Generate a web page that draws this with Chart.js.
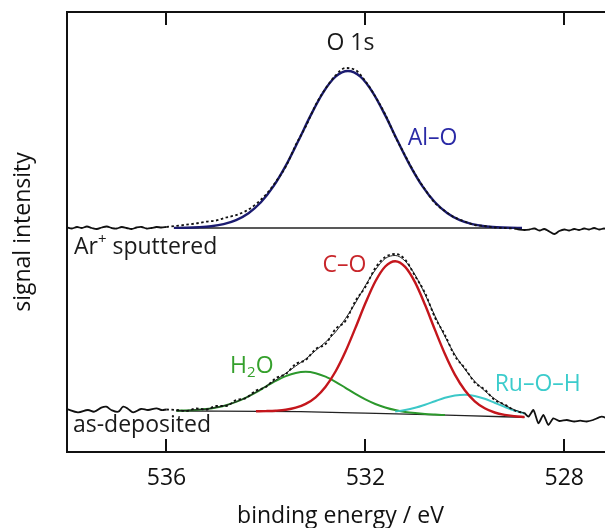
<!DOCTYPE html>
<html>
<head>
<meta charset="utf-8">
<script src="https://cdn.jsdelivr.net/npm/chart.js@4"></script>
<style>
  html, body { margin: 0; padding: 0; background: #fff; overflow: hidden; }
  #wrap { width: 605px; height: 528px; overflow: hidden; }
</style>
</head>
<body>
<div id="wrap"><canvas id="xps" width="620" height="528"></canvas></div>
<script>
// binding energy axis (eV), drawn reversed
const xMin = 527;
const xMax = 538;
const xTicks = [536, 532, 528];

// Ar+ sputtered spectrum (offset intensity, arbitrary units)
const topNoiseLeftE = [538.0, 537.9, 537.8, 537.7, 537.6, 537.5, 537.4, 537.3, 537.2, 537.1, 537.0, 536.9, 536.8, 536.7, 536.6, 536.5, 536.4, 536.3, 536.2, 536.1, 536.0];
const topNoiseLeftI = [224.5, 223.5, 225, 224, 225.5, 224, 223, 224.5, 225.5, 224, 223.5, 225, 224, 223, 224.5, 225, 223.5, 224, 225, 224.5, 225];
const topDataE = [536.0, 535.8, 535.6, 535.4, 535.2, 535.0, 534.8, 534.6, 534.4, 534.2, 534.0, 533.8, 533.6, 533.4, 533.2, 533.0, 532.8, 532.6, 532.4, 532.2, 532.0, 531.8, 531.6, 531.4, 531.2, 531.0, 530.8, 530.6, 530.4, 530.2, 530.0, 529.8, 529.6, 529.4, 529.2, 529.0];
const topDataI = [225, 226.1, 227.3, 228.6, 230.3, 231.5, 234.5, 236.9, 241.1, 247.8, 257.5, 270.3, 285.4, 307, 325.5, 347, 363.5, 376.5, 384, 382, 371, 355.5, 337.5, 315.5, 296.5, 278, 262.5, 249, 241, 234.5, 230.5, 227, 226, 224.5, 224, 223.5];
const topNoiseRightE = [529.0, 528.9, 528.8, 528.7, 528.6, 528.5, 528.4, 528.3, 528.2, 528.1, 528.0, 527.9, 527.8, 527.7, 527.6, 527.5, 527.4, 527.3, 527.2, 527.1, 527.0];
const topNoiseRightI = [223.5, 222.5, 222, 222.5, 223.5, 221.5, 223, 220.5, 218, 221, 222.5, 221.5, 223, 222, 223.5, 222.5, 224, 222.5, 223.5, 222.5, 223];
const topFitE = [535.85, 535.6, 535.35, 535.1, 534.85, 534.6, 534.35, 534.1, 533.85, 533.6, 533.35, 533.1, 532.85, 532.6, 532.35, 532.1, 531.85, 531.6, 531.35, 531.1, 530.85, 530.6, 530.35, 530.1, 529.85, 529.6, 529.35, 529.1, 528.85];
const topAlO = [224.1, 224.3, 224.8, 225.8, 227.9, 231.9, 238.8, 249.7, 265.6, 286.4, 311, 336.6, 359.4, 375.3, 381, 375.3, 359.4, 336.6, 311, 286.4, 265.6, 249.7, 238.8, 231.9, 227.9, 225.8, 224.8, 224.3, 224.1];
const topBgE = [535.85, 528.85];
const topBgI = [224, 224];

// as-deposited spectrum
const botNoiseLeftE = [538.0, 537.78, 537.58, 537.45, 537.31, 537.21, 537.11, 536.97, 536.87, 536.77, 536.67, 536.51, 536.37, 536.2, 536.1, 536.0];
const botNoiseLeftI = [43, 39.7, 42, 40.3, 44.3, 45.3, 42, 40.3, 45.3, 43, 39.7, 43, 42, 43.7, 42, 42.5];
const botDataE = [536.0, 535.8, 535.6, 535.4, 535.2, 535.0, 534.8, 534.6, 534.4, 534.2, 534.0, 533.8, 533.6, 533.4, 533.2, 533.0, 532.8, 532.6, 532.4, 532.2, 532.0, 531.8, 531.6, 531.4, 531.2, 531.0, 530.8, 530.6, 530.4, 530.2, 530.0, 529.8, 529.6, 529.4, 529.2, 529.0, 528.8];
const botDataI = [42.5, 42, 41, 43.5, 42.5, 46, 46, 52, 54, 61.5, 65, 74, 78, 88, 92, 103, 108, 123, 131, 151, 165, 184, 195, 198, 192.5, 176, 159, 134.5, 117, 96, 84, 69.5, 62.5, 52, 47.5, 41.5, 39];
const botNoiseRightE = [528.8, 528.72, 528.62, 528.52, 528.42, 528.32, 528.22, 528.1, 527.95, 527.8, 527.68, 527.55, 527.42, 527.25, 527.1, 527.0];
const botNoiseRightI = [39, 35.3, 42, 28.7, 37, 27, 33.7, 31, 32, 30.5, 31.3, 30.5, 32, 35.3, 33, 32.5];
const botBgE = [535.8, 533.3, 532.0, 530.0, 528.8];
const botBgI = [41, 40.3, 38.9, 36.3, 34.7];
const botEnvE = [535.8, 535.6, 535.4, 535.2, 535.0, 534.8, 534.6, 534.4, 534.2, 534.0, 533.8, 533.6, 533.4, 533.2, 533.0, 532.8, 532.6, 532.4, 532.2, 532.0, 531.8, 531.6, 531.4, 531.2, 531.0, 530.8, 530.6, 530.4, 530.2, 530.0, 529.8, 529.6, 529.4, 529.2, 529.0, 528.8];
const botEnvI = [41.3, 41.6, 42.1, 42.9, 44.5, 46.8, 50.1, 54.4, 59.7, 65.8, 71.9, 78.7, 86, 93, 101.5, 110, 120, 133.5, 149, 166.5, 182, 193.5, 196.5, 190.9, 177.1, 157.6, 136.1, 115.5, 97.4, 82.8, 70.7, 61.1, 53.2, 46.95, 42.2, 38.8];
const coE = [534.2, 534.0, 533.8, 533.6, 533.4, 533.2, 533.0, 532.8, 532.6, 532.4, 532.2, 532.0, 531.8, 531.6, 531.4, 531.2, 531.0, 530.8, 530.6, 530.4, 530.2, 530.0, 529.8, 529.6, 529.4, 529.2, 529.0, 528.8];
const coI = [40.7, 40.9, 41.3, 42.2, 44.3, 48.1, 54.7, 65.3, 80.5, 100.5, 124.1, 148.7, 170.5, 185.5, 190.8, 185.1, 169.6, 147.2, 122.1, 98.0, 77.4, 61.8, 50.7, 43.7, 39.5, 37.1, 35.8, 35.0];
const h2oE = [535.8, 535.6, 535.4, 535.2, 535.0, 534.8, 534.6, 534.4, 534.2, 534.0, 533.8, 533.6, 533.4, 533.2, 533.0, 532.8, 532.6, 532.4, 532.2, 532.0, 531.8, 531.6, 531.4, 531.2, 531.0, 530.8, 530.6, 530.4];
const h2oI = [41.3, 41.6, 42.1, 42.9, 44.5, 46.8, 50.1, 54.4, 59.6, 65.5, 71.1, 75.9, 79.1, 80.2, 78.8, 75.3, 70.2, 64.2, 58.1, 52.6, 48.0, 44.5, 41.9, 40.1, 38.9, 38.0, 37.4, 36.9];
const ruohE = [531.4, 531.2, 531.0, 530.8, 530.6, 530.4, 530.2, 530.0, 529.8, 529.6, 529.4, 529.2, 529.0, 528.8];
const ruohI = [40.4, 41.9, 44.2, 47.3, 50.8, 54.2, 56.5, 57.3, 56.0, 53.2, 49.2, 45.2, 41.4, 38.5];

// text placed in data coordinates
const notes = [
  { parts: [['O 1s', 0]], e: 532.30, v: 409, color: '#1a1a1a', align: 'center' },
  { parts: [['Al\u2013O', 0]], e: 531.15, v: 314, color: '#2a2aa6', align: 'left' },
  { parts: [['Ar', 0], ['+', 1], [' sputtered', 0]], e: 537.86, v: 205, color: '#1a1a1a', align: 'left' },
  { parts: [['C\u2013O', 0]], e: 532.86, v: 187, color: '#c8262b', align: 'left' },
  { parts: [['H', 0], ['2', -1], ['O', 0]], e: 534.72, v: 86, color: '#35a02c', align: 'left' },
  { parts: [['Ru\u2013O\u2013H', 0]], e: 529.40, v: 68, color: '#3ccccc', align: 'left' },
  { parts: [['as-deposited', 0]], e: 537.88, v: 27, color: '#1a1a1a', align: 'left' }
];

const FONT = '"Open Sans", "Noto Sans", sans-serif';

const pts = (es, is) => es.map((e, i) => ({ x: e, y: is[i] }));

const line = (es, is, color, width, extra) => Object.assign({
  data: pts(es, is),
  borderColor: color,
  borderWidth: width,
  pointRadius: 0,
  fill: false,
  cubicInterpolationMode: 'monotone'
}, extra || {});

const datasets = [
  line(topDataE, topDataI, '#111', 1.8, { borderDash: [2.5, 2.5], order: 1 }),
  line(topNoiseLeftE, topNoiseLeftI, '#111', 1.8, { cubicInterpolationMode: 'default', tension: 0.35, order: 1 }),
  line(topNoiseRightE, topNoiseRightI, '#111', 1.8, { cubicInterpolationMode: 'default', tension: 0.35, order: 1 }),
  line(topFitE, topAlO, '#1b1b70', 2.4, { order: 2 }),
  line(topBgE, topBgI, '#222', 1.3, { order: 3 }),

  line(botDataE, botDataI, '#111', 1.8, { borderDash: [2.5, 2.5], order: 1 }),
  line(botNoiseLeftE, botNoiseLeftI, '#111', 1.8, { cubicInterpolationMode: 'default', tension: 0.35, order: 1 }),
  line(botNoiseRightE, botNoiseRightI, '#111', 1.8, { cubicInterpolationMode: 'default', tension: 0.2, order: 1 }),
  line(botEnvE, botEnvI, '#222', 1, { order: 2 }),
  line(coE, coI, '#c4161c', 2.4, { order: 3 }),
  line(ruohE, ruohI, '#3cc8c8', 2, { order: 4 }),
  line(h2oE, h2oI, '#2c982c', 2, { order: 4 }),
  line(botBgE, botBgI, '#222', 1.3, { order: 5 })
];

const notesPlugin = {
  id: 'notes',
  afterDatasetsDraw(chart) {
    const { ctx, scales } = chart;
    ctx.save();
    ctx.textBaseline = 'middle';
    notes.forEach(n => {
      let x = scales.x.getPixelForValue(n.e);
      const y = scales.y.getPixelForValue(n.v);
      const sizes = n.parts.map(p => (p[1] === 0 ? 23 : 15));
      let total = 0;
      n.parts.forEach((p, i) => {
        ctx.font = sizes[i] + 'px ' + FONT;
        total += ctx.measureText(p[0]).width;
      });
      if (n.align === 'center') x -= total / 2;
      ctx.fillStyle = n.color;
      ctx.textAlign = 'left';
      n.parts.forEach((p, i) => {
        ctx.font = sizes[i] + 'px ' + FONT;
        const dy = p[1] === 1 ? -7 : (p[1] === -1 ? 7 : 0);
        ctx.fillText(p[0], x, y + dy);
        x += ctx.measureText(p[0]).width;
      });
    });
    ctx.restore();
  }
};

const setTicks = (scale) => { scale.ticks = xTicks.map(v => ({ value: v })); };

new Chart(document.getElementById('xps').getContext('2d'), {
  type: 'line',
  data: { datasets },
  plugins: [notesPlugin],
  options: {
    responsive: false,
    animation: false,
    layout: { padding: { top: 12, right: 6, left: 0, bottom: 0 } },
    plugins: { legend: { display: false }, tooltip: { enabled: false } },
    scales: {
      x: {
        type: 'linear', min: xMin, max: xMax, reverse: true, position: 'bottom',
        afterBuildTicks: setTicks,
        afterFit: (s) => { s.height = 76; },
        grid: { drawOnChartArea: false, tickLength: -13, color: '#111', lineWidth: 2 },
        border: { display: true, color: '#111', width: 2 },
        ticks: { color: '#111', padding: 26, font: { family: FONT, size: 23 }, maxRotation: 0 },
        title: { display: true, text: 'binding energy / eV', color: '#111', padding: 0, font: { family: FONT, size: 23, lineHeight: 1 } }
      },
      x2: {
        type: 'linear', min: xMin, max: xMax, reverse: true, position: 'top',
        afterBuildTicks: setTicks,
        afterFit: (s) => { s.height = 0; },
        grid: { drawOnChartArea: false, tickLength: -13, color: '#111', lineWidth: 2 },
        border: { display: true, color: '#111', width: 2 },
        ticks: { display: false }
      },
      y: {
        min: 0, max: 440,
        afterFit: (s) => { s.width = 67; },
        grid: { display: false },
        border: { display: true, color: '#111', width: 2 },
        ticks: { display: false },
        title: { display: true, text: 'signal intensity', color: '#111', padding: { top: 12, bottom: 0 }, font: { family: FONT, size: 23, lineHeight: 1 } }
      }
    }
  }
});
</script>
</body>
</html>
